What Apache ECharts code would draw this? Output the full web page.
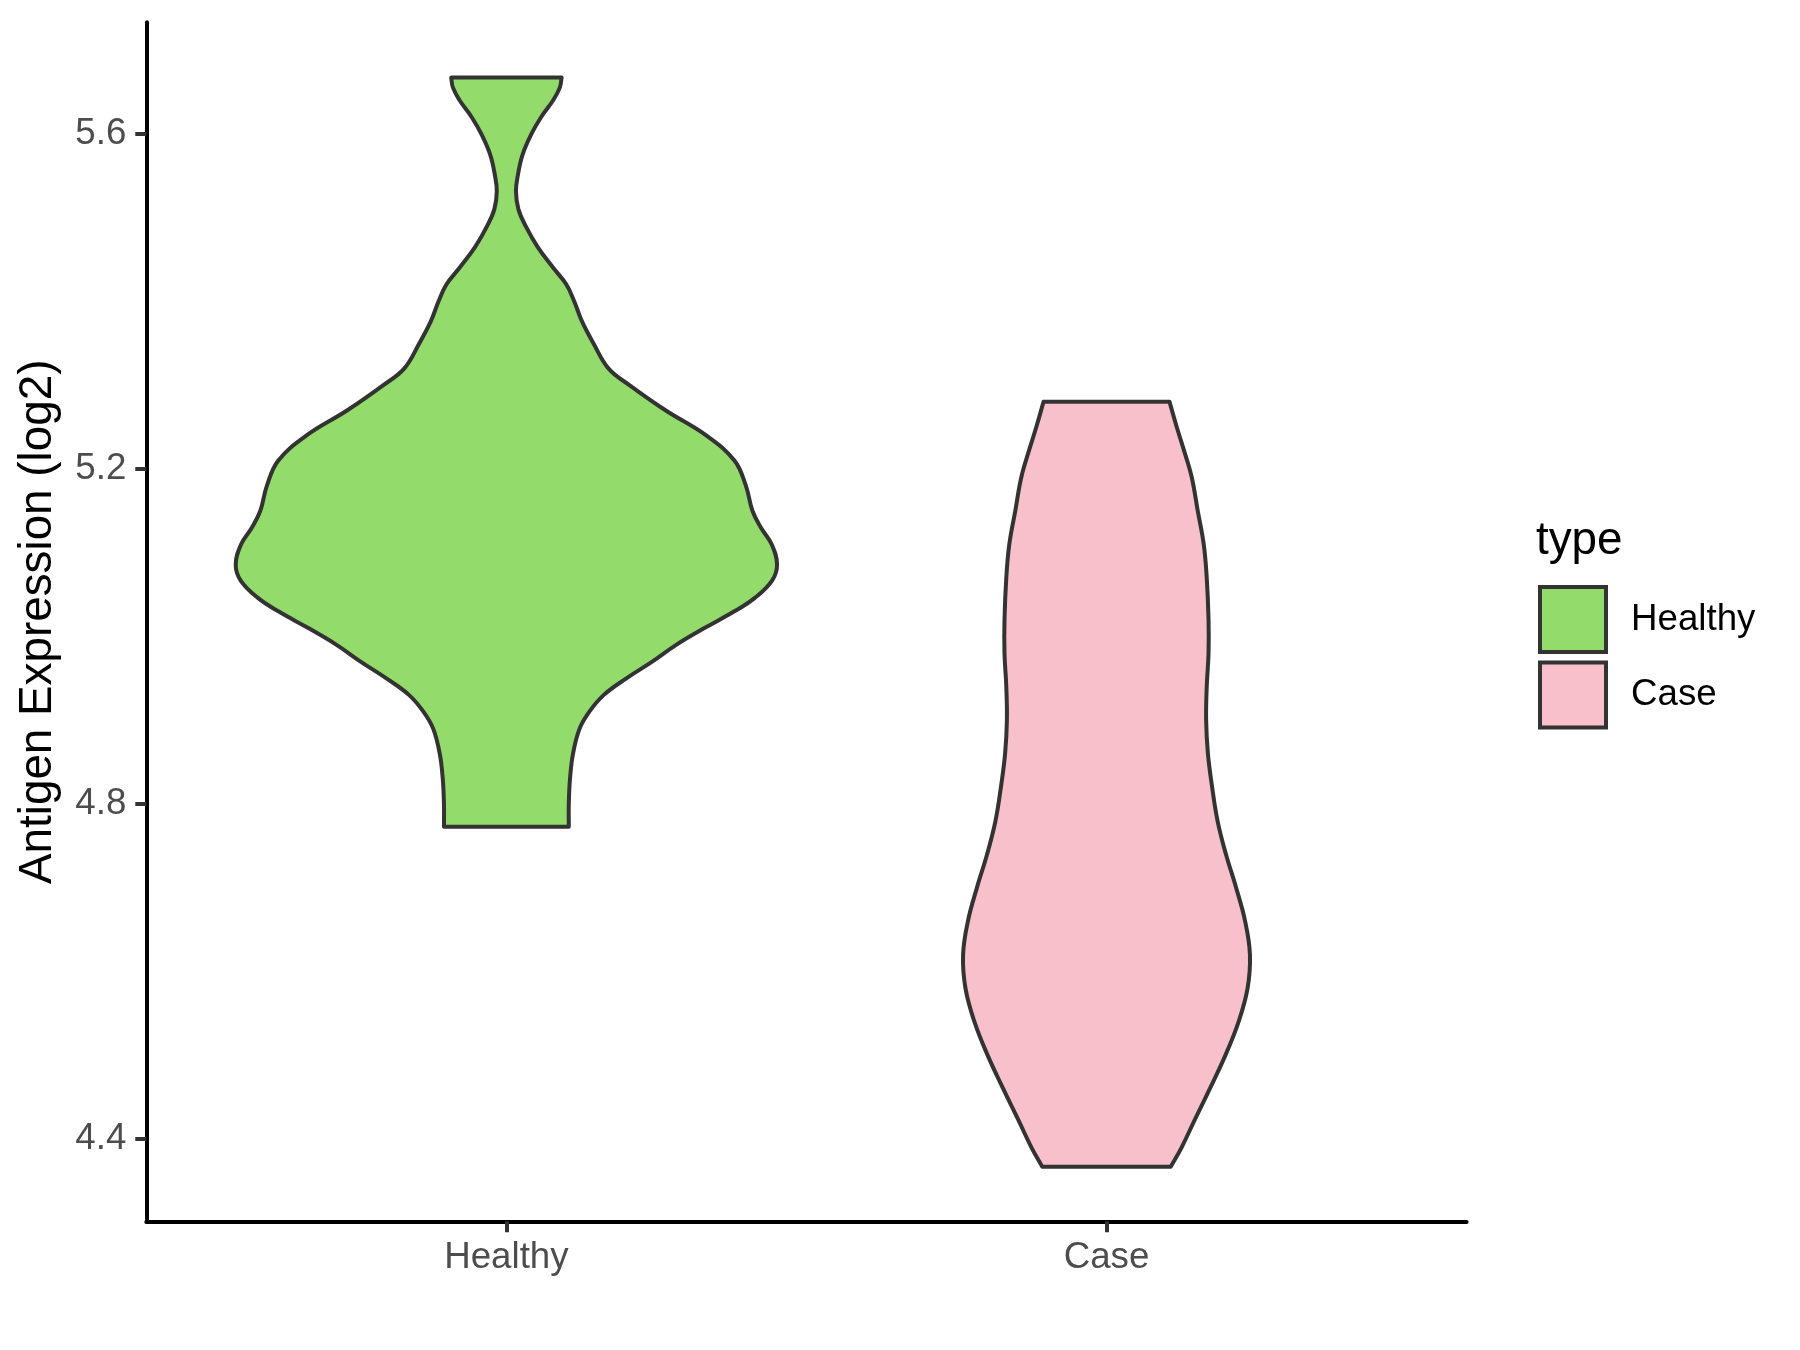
<!DOCTYPE html>
<html>
<head>
<meta charset="utf-8">
<script src="https://cdn.jsdelivr.net/npm/echarts@6/dist/echarts.min.js"></script>
<style>
html, body { margin: 0; padding: 0; background: #fff; }
#chart { width: 1800px; height: 1350px; }
</style>
</head>
<body>
<div id="chart"></div>
<script>
const groups = ['Healthy', 'Case'];
const groupColors = ['#93DB6B', '#F7C0CB'];
const yTicks = [4.4, 4.8, 5.2, 5.6];

// violin outlines: expression level and half width (category units)
const healthyLevels = [5.667, 5.655, 5.64, 5.62, 5.60, 5.575, 5.55, 5.531, 5.51, 5.49,
  5.465, 5.44, 5.42, 5.40, 5.376, 5.35, 5.32, 5.30, 5.27, 5.24,
  5.21, 5.18, 5.15, 5.13, 5.11, 5.086, 5.067, 5.046, 5.03, 5.01,
  4.99, 4.97, 4.95, 4.93, 4.91, 4.89, 4.86, 4.83, 4.80, 4.773];
const healthyWidths = [0.092, 0.089, 0.078, 0.058, 0.042, 0.027, 0.019, 0.016, 0.020, 0.032,
  0.052, 0.078, 0.100, 0.113, 0.126, 0.145, 0.170, 0.205, 0.265, 0.333,
  0.380, 0.399, 0.410, 0.424, 0.442, 0.451, 0.443, 0.414, 0.380, 0.330,
  0.283, 0.243, 0.200, 0.162, 0.138, 0.122, 0.111, 0.106, 0.104, 0.104];

const caseLevels = [5.280, 5.25, 5.22, 5.19, 5.15, 5.11, 5.07, 5.02, 4.98, 4.94,
  4.90, 4.86, 4.82, 4.78, 4.74, 4.70, 4.66, 4.62, 4.58, 4.54,
  4.50, 4.46, 4.42, 4.39, 4.367];
const caseWidths = [0.105, 0.117, 0.130, 0.142, 0.152, 0.162, 0.167, 0.170, 0.170, 0.167,
  0.166, 0.169, 0.176, 0.185, 0.199, 0.216, 0.231, 0.239, 0.235, 0.220,
  0.198, 0.172, 0.145, 0.125, 0.107];

const outlines = [
  { levels: healthyLevels, widths: healthyWidths },
  { levels: caseLevels, widths: caseWidths }
];

const font = 'Liberation Sans, Arial, sans-serif';

// corners are doubled so the smoothing keeps the flat top and bottom straight
function withCorners(pts) {
  return [pts[0]].concat(pts, [pts[pts.length - 1]]);
}

function violinItem(levels, widths) {
  return function (params, api) {
    const center = api.value(0);
    const right = levels.map((lv, i) => api.coord([center + widths[i], lv]));
    const left = levels.map((lv, i) => api.coord([center - widths[i], lv])).reverse();
    return {
      type: 'polygon',
      shape: { points: withCorners(right).concat(withCorners(left)), smooth: 0.4 },
      style: { fill: api.visual('color'), stroke: '#333333', lineWidth: 4, lineJoin: 'round' }
    };
  };
}

const chart = echarts.init(document.getElementById('chart'));

chart.setOption({
  animation: false,
  backgroundColor: '#ffffff',
  title: {
    text: 'type',
    left: 1536,
    top: 518,
    padding: 0,
    textStyle: { fontSize: 45.8, fontWeight: 'normal', color: '#000', fontFamily: font }
  },
  legend: {
    data: groups,
    orient: 'vertical',
    left: 1538,
    top: 585,
    padding: 0,
    itemWidth: 66,
    itemHeight: 65,
    itemGap: 6.5,
    icon: 'rect',
    itemStyle: { borderColor: '#333333', borderWidth: 4 },
    textStyle: { fontSize: 36.7, color: '#000', fontFamily: font, padding: [0, 0, 0, 20] },
    selectedMode: false
  },
  grid: { left: 146.3, right: 333.4, top: 22.3, bottom: 128.7, containLabel: false },
  xAxis: {
    type: 'value',
    min: 0.4,
    max: 2.6,
    splitLine: { show: false },
    axisLine: { lineStyle: { color: '#000', width: 4 } },
    axisTick: { customValues: [1, 2], length: 11, lineStyle: { color: '#333333', width: 4 } },
    axisLabel: {
      customValues: [1, 2],
      formatter: (v) => groups[Math.round(v) - 1],
      fontSize: 36.7, color: '#4d4d4d', fontFamily: font, margin: 18
    }
  },
  yAxis: {
    type: 'value',
    min: 4.302,
    max: 5.733,
    name: 'Antigen Expression (log2)',
    nameLocation: 'middle',
    nameGap: 85,
    nameTextStyle: { fontSize: 45.8, color: '#000', fontFamily: font },
    splitLine: { show: false },
    axisLine: { show: true, lineStyle: { color: '#000', width: 4 } },
    axisTick: { show: true, customValues: yTicks, length: 11, lineStyle: { color: '#333333', width: 4 } },
    axisLabel: {
      customValues: yTicks,
      formatter: (v) => v.toFixed(1),
      fontSize: 36.7, color: '#4d4d4d', fontFamily: font, margin: 20
    }
  },
  series: groups.map((g, i) => ({
    name: g,
    type: 'custom',
    data: [[i + 1]],
    encode: { x: 0 },
    itemStyle: { color: groupColors[i], borderColor: '#333333', borderWidth: 4 },
    renderItem: violinItem(outlines[i].levels, outlines[i].widths)
  }))
});
</script>
</body>
</html>
